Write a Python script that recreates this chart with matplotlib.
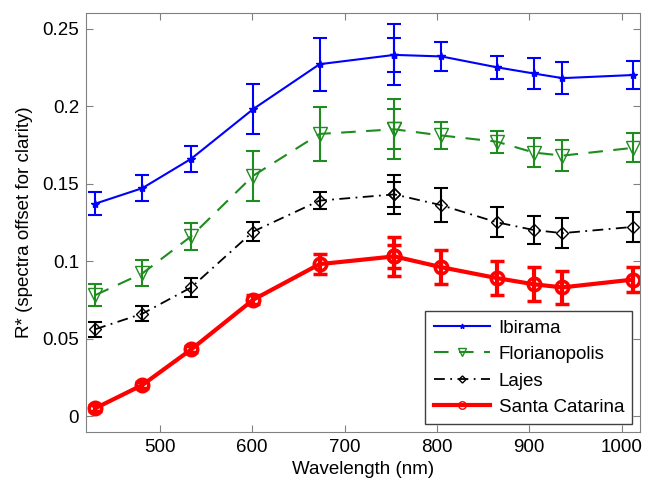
import matplotlib
matplotlib.use("Agg")
import matplotlib.pyplot as plt

plt.rcParams['font.family'] = ['Liberation Sans', 'DejaVu Sans']

# Band centres (nm); 754 nm was measured twice
wavelength = [430, 481, 534, 601, 673, 754, 754, 805, 865, 905, 936, 1012]

ibirama = [0.137, 0.147, 0.166, 0.198, 0.227, 0.233, 0.233, 0.232, 0.225, 0.221, 0.218, 0.220]
ibirama_err = [0.0075, 0.0084, 0.0085, 0.0163, 0.0172, 0.0197, 0.011, 0.0091, 0.0075, 0.010, 0.0101, 0.0091]

florianopolis = [0.078, 0.092, 0.116, 0.155, 0.182, 0.185, 0.185, 0.181, 0.177, 0.170, 0.168, 0.173]
florianopolis_err = [0.0073, 0.0084, 0.0086, 0.0161, 0.0174, 0.0194, 0.0129, 0.0089, 0.0072, 0.0094, 0.0098, 0.0094]

lajes = [0.056, 0.066, 0.083, 0.119, 0.139, 0.143, 0.143, 0.136, 0.125, 0.120, 0.118, 0.122]
lajes_err = [0.0048, 0.005, 0.0062, 0.0059, 0.0057, 0.0126, 0.0081, 0.0111, 0.0097, 0.0089, 0.0095, 0.0094]

santa_catarina = [0.005, 0.020, 0.043, 0.075, 0.098, 0.103, 0.103, 0.096, 0.089, 0.085, 0.083, 0.088]
santa_catarina_err = [0.002, 0.002, 0.002, 0.003, 0.0065, 0.0124, 0.0075, 0.0108, 0.0111, 0.011, 0.0104, 0.0079]

fs = 13.5

fig = plt.figure(figsize=(6.45, 4.83), dpi=100)
ax = fig.add_axes([0.1333, 0.1056, 0.8589, 0.8674])

eb1 = ax.errorbar(wavelength, ibirama, yerr=ibirama_err, color='#0000ff', ls='-', lw=1.5,
                  marker='*', ms=6, capsize=5, elinewidth=1.5, capthick=1.5)
eb2 = ax.errorbar(wavelength, florianopolis, yerr=florianopolis_err, color='#1f8c1f',
                  ls=(0, (7, 5)), lw=1.5, marker='v', ms=10, mfc='none',
                  capsize=5, elinewidth=1.5, capthick=1.5)
eb3 = ax.errorbar(wavelength, lajes, yerr=lajes_err, color='black', ls=(0, (6, 3, 1, 3)),
                  lw=1.3, marker='D', ms=6, mfc='none', capsize=5, elinewidth=1.5, capthick=1.5)
eb4 = ax.errorbar(wavelength, santa_catarina, yerr=santa_catarina_err, color='#ff0000',
                  ls='-', lw=3, marker='o', ms=9, mfc='none', mew=2.5,
                  capsize=5, elinewidth=3, capthick=3)

ax.set_xlim(420, 1020)
ax.set_ylim(-0.0103, 0.26)
ax.set_xticks([500, 600, 700, 800, 900, 1000])
ax.set_yticks([0, 0.05, 0.1, 0.15, 0.2, 0.25])
ax.set_yticklabels(['0', '0.05', '0.1', '0.15', '0.2', '0.25'])
ax.tick_params(direction='in', top=True, right=True, labelsize=fs, length=5,
               color='#808080', pad=5)
for s in ax.spines.values():
    s.set_color('#808080')

ax.set_xlabel('Wavelength (nm)', fontsize=fs, labelpad=4)
ax.set_ylabel('R* (spectra offset for clarity)', fontsize=fs, labelpad=7)

# legend shows only the data lines, not the error bars
handles = [eb1[0], eb2[0], eb3[0], eb4[0]]
labels = ['Ibirama', 'Florianopolis', 'Lajes', 'Santa Catarina']
leg = ax.legend(handles, labels, loc='lower right', fontsize=fs, handlelength=3.0,
                fancybox=False, framealpha=1, edgecolor='#404040', borderaxespad=0.4,
                labelspacing=0.5, handletextpad=0.45, borderpad=0.45, markerscale=0.6)
leg.get_frame().set_linewidth(1.0)
for h in leg.legend_handles:
    h.set_markeredgewidth(1.0)

fig.savefig('out.png', dpi=100)
